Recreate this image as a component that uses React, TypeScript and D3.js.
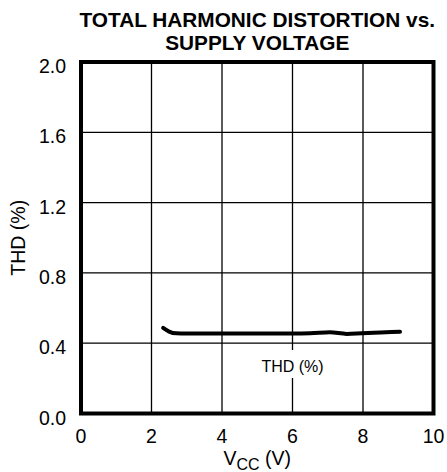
import React from "react";
import * as d3 from "d3";

const xTicks = [0, 2, 4, 6, 8, 10];
const yTicks = [0.0, 0.4, 0.8, 1.2, 1.6, 2.0];
const vccValues = [2.33, 2.5, 2.7, 3.0, 4.0, 5.0, 6.0, 6.5, 7.06, 7.54, 7.97, 8.5, 9.05];
const thdValues = [0.487, 0.466, 0.456, 0.455, 0.455, 0.455, 0.455, 0.456, 0.462, 0.453, 0.457, 0.461, 0.465];
const titleLines = ["TOTAL HARMONIC DISTORTION vs.", "SUPPLY VOLTAGE"];
const seriesLabel = "THD (%)";

const W = 447;
const H = 472;
const FONT = "'Liberation Sans', Arial, sans-serif";

export default function App() {
  const x = d3.scaleLinear().domain([0, 10]).range([81, 433.5]);
  const y = d3.scaleLinear().domain([0, 2]).range([413.5, 62]);
  const data = vccValues.map((v, i) => [v, thdValues[i]] as [number, number]);
  const line = d3
    .line<[number, number]>()
    .x((d) => x(d[0]))
    .y((d) => y(d[1]))
    .curve(d3.curveMonotoneX);
  const cx = (x.range()[0] + x.range()[1]) / 2;
  const cy = (y.range()[0] + y.range()[1]) / 2;
  const labelX = x(6);
  const labelY = 372;
  return (
    <svg
      width={W}
      height={H}
      style={{ position: "absolute", left: 0, top: 0, background: "#fff" }}
      fontFamily={FONT}
    >
      {titleLines.map((t, i) => (
        <text key={t} x={cx} y={26.5 + i * 23.5} textAnchor="middle" fontWeight="bold" fontSize={20.8}>
          {t}
        </text>
      ))}
      {xTicks.slice(1, -1).map((t) => (
        <line key={"gx" + t} x1={x(t)} x2={x(t)} y1={y(2)} y2={y(0)} stroke="#000" strokeWidth={1.3} />
      ))}
      {yTicks.slice(1, -1).map((t) => (
        <line key={"gy" + t} x1={x(0)} x2={x(10)} y1={y(t)} y2={y(t)} stroke="#000" strokeWidth={1.3} />
      ))}
      <rect x={labelX - 34} y={350} width={68} height={28} fill="#fff" />
      <text x={labelX} y={labelY} textAnchor="middle" fontSize={16}>
        {seriesLabel}
      </text>
      <path d={line(data) || ""} fill="none" stroke="#000" strokeWidth={4} strokeLinecap="round" />
      <rect
        x={x(0)}
        y={y(2)}
        width={x(10) - x(0)}
        height={y(0) - y(2)}
        fill="none"
        stroke="#000"
        strokeWidth={4}
      />
      {yTicks.map((t) => (
        <text key={"yl" + t} x={66} y={y(t) + 11} textAnchor="end" fontSize={19.5}>
          {t.toFixed(1)}
        </text>
      ))}
      {xTicks.map((t) => (
        <text key={"xl" + t} x={x(t)} y={443} textAnchor="middle" fontSize={19.5}>
          {t}
        </text>
      ))}
      <text x={cx} y={465} textAnchor="middle" fontSize={19.5}>
        V<tspan fontSize={16} dy={5}>CC</tspan>
        <tspan dy={-5}> (V)</tspan>
      </text>
      <text
        transform={`translate(25,${cy}) rotate(-90)`}
        textAnchor="middle"
        fontSize={19.5}
      >
        {seriesLabel}
      </text>
    </svg>
  );
}
